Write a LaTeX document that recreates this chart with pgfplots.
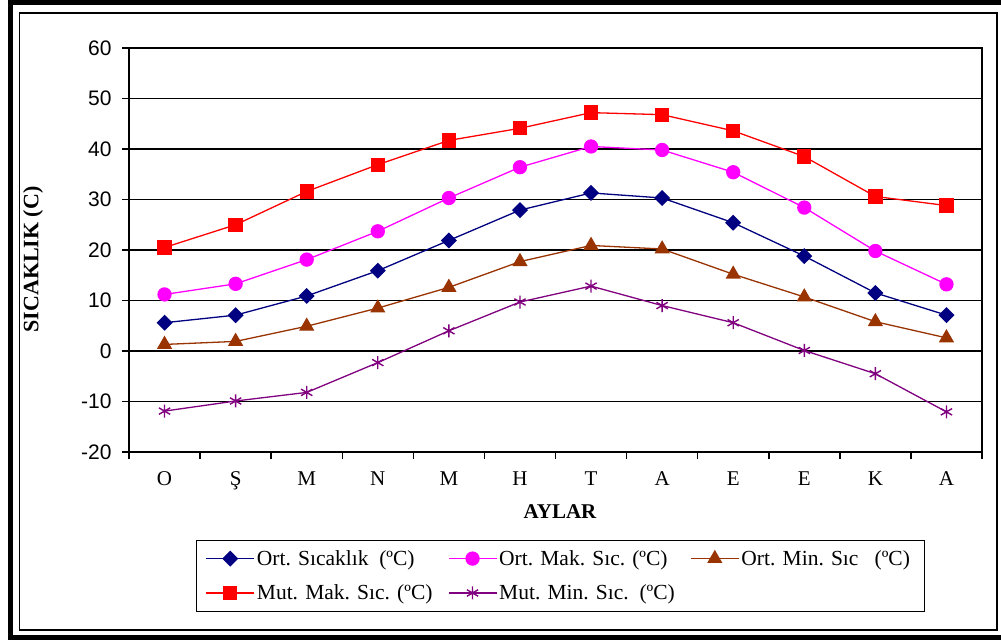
\documentclass[border=0pt]{standalone}
\usepackage{fontspec}
\setmainfont{Liberation Serif}
\newfontfamily\arial{Liberation Sans}
\usepackage{pgfplots}
\pgfplotsset{compat=1.18}
\definecolor{c1}{HTML}{000080}
\definecolor{c2}{HTML}{FF00FF}
\definecolor{c3}{HTML}{993300}
\definecolor{c4}{HTML}{FF0000}
\definecolor{c5}{HTML}{800080}
\begin{document}
\begin{tikzpicture}
\useasboundingbox (0bp,0bp) rectangle (1001bp,641bp);
\fill[white] (0bp,0bp) rectangle (1001bp,641bp);
\draw[line width=5bp] (1010bp,638.5bp) -- (10bp,638.5bp) -- (10bp,3bp) -- (1010bp,3bp);
\draw[line width=1.5bp] (19.5bp,628bp) rectangle (997bp,11bp);
\begin{axis}[
  at={(129bp,189bp)}, anchor=south west,
  scale only axis, width=853bp, height=404bp,
  xmin=-0.5, xmax=11.5, ymin=-20, ymax=60,
  ytick={-20,-10,...,60},
  xtick={0,...,11},
  xticklabels={O,Ş,M,N,M,H,T,A,E,E,K,A},
  minor xtick={-0.5,0.5,...,11.5},
  xtick pos=bottom, ytick pos=left,
  tick align=outside,
  major tick length=7bp, minor tick length=7bp,
  tick style={black, line width=1.5bp},
  major x tick style={draw=none},
  minor x tick style={black, line width=1.5bp},
  ymajorgrids,
  grid style={black, line width=1.6bp},
  axis line style={black, line width=1.6bp},
  /pgf/number format/assume math mode=true,
  yticklabel style={font=\arial\fontsize{21bp}{24bp}\selectfont, xshift=-7bp},
  xticklabel style={font=\fontsize{21bp}{24bp}\selectfont, yshift=-9bp},
  ylabel={SICAKLIK (C)},
  ylabel style={font=\bfseries\fontsize{22bp}{24bp}\selectfont, at={(axis description cs:-0.1125,0.4765)}, anchor=center},
  xlabel={AYLAR},
  xlabel style={font=\bfseries\fontsize{21bp}{24bp}\selectfont, at={(axis description cs:0.5053,-0.148)}, anchor=center},
  legend columns=3,
  legend cell align=left,
  legend image code/.code={\draw[mark repeat=2,mark phase=2,#1] plot coordinates {(0bp,0bp) (24bp,0bp) (48bp,0bp)};},
  legend style={at={(0.07855,-0.2173)}, anchor=north west, draw=black, line width=1.2bp,
    font=\fontsize{21.5bp}{24bp}\selectfont, inner xsep=9bp, inner ysep=8bp, row sep=14bp,
    /tikz/every even column/.append style={column sep=0bp}},
]
\addplot[c1, line width=1.3bp, mark=square*, mark size=5bp, mark options={rotate=45, fill=c1, solid}]
  coordinates {(0,5.6) (1,7.1) (2,10.9) (3,15.9) (4,21.9) (5,27.9) (6,31.3) (7,30.3) (8,25.4) (9,18.8) (10,11.5) (11,7.1)};
\addlegendentry{\makebox[189bp][l]{Ort. Sıcaklık\ \ (ºC)}}
\addplot[c2, line width=1.3bp, mark=*, mark size=6.5bp, mark options={fill=c2, solid}]
  coordinates {(0,11.2) (1,13.3) (2,18.1) (3,23.7) (4,30.3) (5,36.4) (6,40.5) (7,39.8) (8,35.4) (9,28.4) (10,19.8) (11,13.2)};
\addlegendentry{\makebox[189bp][l]{Ort. Mak. Sıc. (ºC)}}
\addplot[c3, line width=1.3bp, mark=triangle*, mark size=7.5bp, mark options={fill=c3, solid}]
  coordinates {(0,1.3) (1,1.9) (2,4.9) (3,8.5) (4,12.6) (5,17.7) (6,20.9) (7,20.2) (8,15.2) (9,10.7) (10,5.8) (11,2.6)};
\addlegendentry{\makebox[172bp][l]{Ort. Min. Sıc\ \ \ (ºC)}}
\addplot[c4, line width=1.3bp, mark=square*, mark size=6.5bp, mark options={fill=c4, solid}]
  coordinates {(0,20.5) (1,25) (2,31.6) (3,36.9) (4,41.7) (5,44.1) (6,47.2) (7,46.8) (8,43.6) (9,38.5) (10,30.6) (11,28.8)};
\addlegendentry{\makebox[189bp][l]{Mut. Mak. Sıc. (ºC)}}
\addplot[c5, line width=1.3bp, mark=asterisk, mark size=6.5bp, mark options={solid, line width=1.4bp}]
  coordinates {(0,-11.9) (1,-9.9) (2,-8.2) (3,-2.3) (4,4.0) (5,9.7) (6,12.85) (7,9.0) (8,5.6) (9,0.1) (10,-4.5) (11,-12.05)};
\addlegendentry{\makebox[189bp][l]{Mut. Min. Sıc.\ \ (ºC)}}
\end{axis}
\end{tikzpicture}
\end{document}
